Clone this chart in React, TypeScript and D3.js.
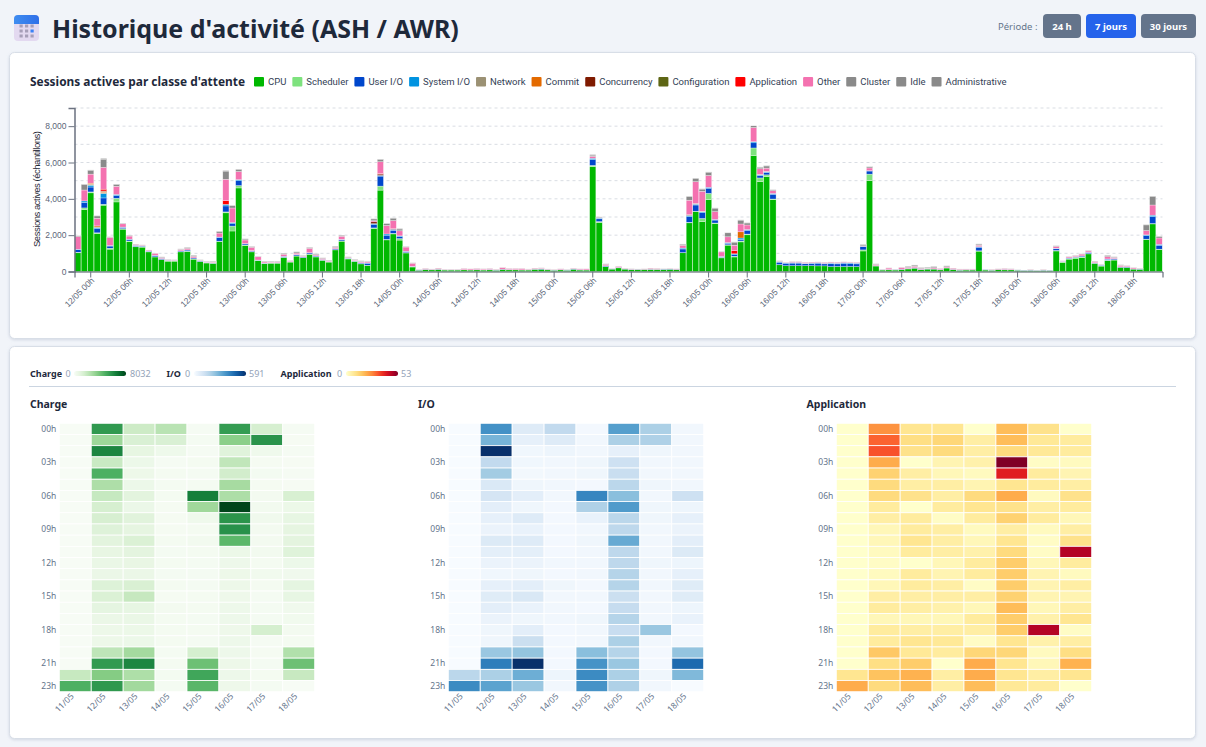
import { useEffect, useRef } from 'react';
import * as d3 from 'd3';

const days = ['11/05', '12/05', '13/05', '14/05', '15/05', '16/05', '17/05', '18/05'];
const rowHours = d3.range(24).map((h) => `${String(h).padStart(2, '0')}h`);
const rowTicks = ['00h', '03h', '06h', '09h', '12h', '15h', '18h', '21h', '23h'];

// hourly samples, 11/05 22h to 18/05 22h, one line per day
const cpu = [
  1030, 3400,
  4330, 2080, 3650, 1230, 3830, 2330, 1650, 1360, 1340, 1080, 800, 650, 570, 570, 1080, 1100, 680, 550, 470, 450, 1640, 3230, 2230, 4600,
  1430, 1080, 600, 440, 460, 460, 770, 520, 850, 760, 950, 800, 620, 520, 1190, 1670, 690, 560, 420, 340, 2370, 4480, 1740, 2070,
  1730, 1020, 250, 70, 100, 90, 110, 80, 80, 80, 90, 80, 90, 80, 90, 70, 110, 90, 90, 80, 80, 120, 120, 90,
  70, 90, 70, 120, 80, 80, 5770, 2700, 270, 130, 200, 130, 100, 100, 110, 110, 110, 110, 120, 100, 1030, 2680, 3290, 2740,
  3950, 2640, 750, 1450, 800, 1630, 2020, 6380, 4950, 5220, 3950, 370, 320, 320, 320, 320, 320, 310, 310, 270, 280, 270, 280, 270,
  1130, 5000, 300, 80, 90, 80, 110, 140, 180, 100, 130, 130, 90, 190, 100, 70, 80, 80, 1120, 80, 70, 100, 90, 90,
  70, 50, 60, 50, 60, 50, 1130, 500, 680, 730, 760, 970, 450, 300, 600, 630, 230, 220, 130, 120, 1750, 2620, 1200,
];
const scheduler = [
  30, 100,
  50, 50, 50, 50, 200, 30, 30, 20, 20, 10, 10, 10, 10, 10, 10, 20, 10, 5, 5, 5, 30, 50, 270, 130,
  30, 20, 10, 5, 5, 5, 10, 5, 10, 5, 10, 10, 5, 5, 5, 10, 10, 5, 5, 5, 30, 220, 30, 30,
  80, 20, 5, 0, 0, 0, 0, 0, 0, 0, 0, 0, 0, 0, 0, 0, 0, 0, 0, 0, 0, 0, 0, 0,
  0, 0, 0, 0, 0, 0, 70, 50, 5, 0, 0, 0, 0, 0, 0, 0, 0, 0, 0, 0, 10, 30, 30, 180,
  350, 30, 30, 20, 40, 50, 40, 420, 200, 100, 40, 10, 0, 0, 0, 0, 0, 0, 0, 0, 0, 0, 0, 0,
  60, 360, 0, 0, 0, 0, 0, 0, 0, 0, 0, 0, 0, 0, 0, 0, 0, 0, 20, 0, 0, 0, 0, 0,
  0, 0, 0, 0, 0, 0, 30, 30, 20, 50, 40, 10, 5, 5, 20, 10, 0, 0, 0, 0, 30, 20, 30,
];
const userIO = [
  140, 300,
  270, 230, 350, 120, 150, 70, 80, 45, 40, 30, 70, 50, 30, 20, 40, 60, 55, 30, 20, 20, 200, 330, 130, 270,
  60, 40, 15, 15, 10, 20, 50, 20, 60, 35, 60, 45, 30, 20, 50, 60, 30, 20, 45, 105, 190, 550, 230, 170,
  110, 60, 25, 18, 18, 18, 18, 12, 12, 12, 12, 12, 18, 12, 24, 18, 18, 18, 12, 12, 12, 12, 30, 18,
  12, 18, 18, 24, 24, 12, 320, 150, 35, 18, 24, 18, 18, 18, 12, 18, 12, 24, 18, 18, 200, 310, 340, 315,
  285, 160, 40, 80, 85, 75, 200, 285, 130, 130, 260, 130, 130, 140, 140, 105, 115, 145, 110, 155, 140, 180, 155, 150,
  175, 170, 24, 18, 18, 24, 18, 24, 24, 18, 18, 18, 24, 18, 18, 18, 18, 18, 195, 18, 12, 12, 24, 18,
  18, 18, 18, 18, 18, 18, 90, 20, 40, 25, 50, 60, 25, 40, 50, 50, 25, 30, 12, 18, 190, 380, 215,
];
const systemIO = [
  25, 85,
  100, 50, 241, 30, 60, 15, 20, 15, 10, 5, 10, 5, 5, 0, 10, 10, 5, 5, 5, 5, 25, 85, 65, 55,
  15, 10, 5, 5, 5, 5, 10, 5, 15, 5, 15, 10, 5, 5, 10, 30, 10, 5, 15, 25, 45, 41, 65, 55,
  40, 15, 5, 0, 0, 0, 0, 0, 0, 0, 0, 0, 0, 0, 0, 0, 0, 0, 0, 0, 0, 0, 0, 0,
  0, 0, 0, 0, 0, 0, 75, 40, 5, 0, 0, 0, 0, 0, 0, 0, 0, 0, 0, 0, 50, 55, 45, 50,
  50, 35, 10, 40, 50, 90, 50, 60, 35, 30, 45, 30, 30, 37, 37, 25, 27, 32, 26, 40, 37, 45, 40, 40,
  20, 20, 0, 0, 0, 0, 0, 0, 0, 0, 0, 0, 0, 0, 0, 0, 0, 0, 30, 0, 0, 0, 0, 0,
  0, 0, 0, 0, 0, 0, 30, 10, 10, 10, 10, 20, 5, 10, 20, 20, 5, 10, 0, 0, 45, 80, 50,
];
const other = [
  700, 600,
  500, 420, 1200, 450, 450, 180, 170, 50, 40, 50, 110, 50, 30, 20, 70, 80, 80, 20, 20, 40, 220, 1180, 800, 450,
  200, 180, 180, 60, 40, 40, 110, 40, 80, 40, 240, 60, 60, 30, 70, 170, 40, 40, 50, 60, 60, 650, 470, 450,
  280, 230, 170, 12, 42, 22, 52, 28, 28, 28, 58, 58, 52, 48, 46, 32, 82, 52, 58, 68, 38, 48, 40, 22,
  18, 42, 12, 36, 46, 58, 100, 20, 80, 12, 56, 32, 22, 12, 28, 52, 38, 6, 22, 32, 150, 800, 1200, 1100,
  650, 430, 250, 320, 290, 430, 250, 780, 310, 180, 150, 20, 30, 40, 40, 50, 50, 30, 50, 50, 50, 40, 40, 40,
  30, 150, 60, 12, 82, 6, 92, 60, 80, 50, 30, 60, 46, 50, 62, 42, 32, 32, 80, 0, 28, 38, 46, 32,
  2, 0, 22, 2, 22, 0, 100, 20, 60, 60, 100, 70, 60, 20, 130, 60, 80, 50, 60, 22, 240, 560, 350,
];
const cluster = [
  40, 300,
  200, 130, 450, 20, 100, 30, 30, 0, 0, 0, 0, 30, 10, 15, 20, 50, 60, 20, 20, 30, 80, 450, 130, 100,
  50, 40, 30, 30, 30, 30, 50, 20, 60, 30, 40, 40, 30, 30, 60, 50, 30, 30, 40, 30, 100, 130, 100, 130,
  100, 20, 20, 0, 0, 0, 0, 0, 0, 0, 0, 0, 0, 0, 0, 0, 0, 0, 0, 0, 0, 0, 0, 0,
  0, 0, 0, 0, 0, 0, 70, 30, 30, 0, 0, 0, 0, 0, 0, 0, 0, 0, 0, 0, 60, 200, 180, 120,
  180, 190, 20, 220, 170, 210, 110, 97, 80, 120, 40, 20, 0, 0, 0, 0, 0, 0, 0, 0, 0, 0, 0, 0,
  60, 60, 30, 0, 0, 0, 0, 56, 66, 42, 52, 62, 0, 52, 0, 0, 0, 0, 60, 0, 0, 0, 0, 0,
  0, 0, 0, 0, 0, 0, 30, 10, 10, 10, 10, 20, 20, 10, 70, 30, 20, 10, 10, 10, 310, 470, 80,
];
const administrative = [
  15, 20,
  30, 15, 40, 10, 20, 15, 15, 15, 15, 10, 10, 10, 15, 15, 15, 10, 10, 15, 15, 15, 20, 30, 15, 25,
  15, 10, 10, 15, 15, 15, 15, 10, 15, 10, 15, 10, 10, 15, 10, 15, 10, 10, 15, 15, 15, 15, 15, 15,
  25, 10, 10, 10, 10, 10, 10, 10, 10, 10, 10, 10, 10, 10, 10, 10, 10, 10, 10, 10, 10, 10, 10, 10,
  10, 10, 10, 10, 10, 10, 30, 15, 10, 10, 10, 10, 10, 10, 10, 10, 10, 10, 10, 10, 15, 15, 15, 15,
  15, 15, 10, 15, 15, 15, 15, 10, 20, 20, 15, 10, 10, 10, 10, 10, 10, 10, 10, 10, 10, 10, 10, 10,
  15, 20, 10, 10, 10, 10, 10, 10, 10, 10, 10, 10, 10, 10, 10, 10, 10, 10, 15, 10, 10, 10, 10, 10,
  10, 10, 10, 10, 10, 10, 15, 10, 10, 10, 10, 10, 10, 10, 10, 10, 10, 10, 10, 10, 20, 20, 15,
];

// classes that only show up on a few hours
const network: Record<string, number> = {
  '12/05 00h': 50, '12/05 01h': 40, '12/05 02h': 60, '15/05 21h': 50, '15/05 22h': 40, '15/05 23h': 30, '16/05 08h': 30, '16/05 09h': 30,
};
const commit: Record<string, number> = { '12/05 00h': 60, '12/05 01h': 60, '12/05 02h': 60, '16/05 05h': 340 };
const concurrency: Record<string, number> = { '12/05 02h': 20, '13/05 20h': 100, '13/05 21h': 70 };
const configuration: Record<string, number> = {};
const application: Record<string, number> = { '12/05 02h': 100, '12/05 21h': 200, '13/05 21h': 30, '13/05 23h': 30, '16/05 04h': 180 };
const idle: Record<string, number> = {};

// Application heatmap, one list per day
const appDay11 = [0, 0, 0, 0, 0, 0, 0, 0, 0, 0, 0, 0, 0, 0, 0, 0, 0, 0, 0, 0, 0, 0, 9, 21];
const appDay12 = [25, 31, 33, 21, 14, 12, 12, 7, 6, 3, 3, 2, 1, 2, 3, 6, 7, 3, 7, 7, 16, 11, 17, 12];
const appDay13 = [9, 11, 10, 0, 6, 6, 10, 0, 7, 7, 9, 7, 0, 7, 7, 6, 6, 3, 6, 9, 8, 15, 20, 18];
const appDay14 = [9, 13, 12, 4, 3, 6, 6, 7, 1, 6, 6, 6, 3, 4, 6, 6, 5, 3, 6, 8, 7, 0, 6, 6];
const appDay15 = [0, 6, 6, 5, 2, 4, 12, 9, 7, 2, 3, 5, 7, 7, 1, 6, 3, 7, 6, 1, 13, 21, 21, 18];
const appDay16 = [18, 18, 12, 53, 40, 9, 21, 10, 14, 6, 9, 12, 15, 15, 15, 14, 18, 15, 15, 9, 13, 9, 9, 8];
const appDay17 = [10, 8, 8, 1, 7, 7, 2, 6, 7, 2, 1, 1, 3, 4, 4, 4, 3, 5, 47, 5, 2, 3, 6, 7];
const appDay18 = [0, 7, 7, 2, 4, 6, 10, 7, 3, 6, 10, 47, 7, 2, 6, 4, 6, 9, 1, 6, 11, 20, 9, 0];
const appByDay = [appDay11, appDay12, appDay13, appDay14, appDay15, appDay16, appDay17, appDay18];

const hourKeys = days.flatMap((d) => rowHours.map((h) => `${d} ${h}`)).slice(22, 22 + cpu.length);
const pick = (m: Record<string, number>) => hourKeys.map((k) => m[k] || 0);

const seriesNames = ['CPU', 'Scheduler', 'User I/O', 'System I/O', 'Network', 'Commit', 'Concurrency', 'Configuration', 'Application', 'Other', 'Cluster', 'Idle', 'Administrative'];
const seriesColors = ['#00b800', '#7ee27e', '#0047cc', '#0093e0', '#9b9174', '#e36a00', '#7f1a00', '#5e6614', '#ff0000', '#f472b0', '#8a8a8a', '#8a8a8a', '#8a8a8a'];
const seriesValues = [
  cpu, scheduler, userIO, systemIO, pick(network), pick(commit), pick(concurrency), pick(configuration), pick(application), other, cluster, pick(idle), administrative,
];

const SANS = '"Noto Sans", "Open Sans", sans-serif';
const ROBOTO = 'Roboto, "Noto Sans", sans-serif';
const ARIAL = '"Liberation Sans", Arial, sans-serif';

export default function App() {
  const svgRef = useRef<SVGSVGElement>(null);

  useEffect(() => {
    if (!svgRef.current) return;
    const svg = d3.select(svgRef.current);
    svg.selectAll('*').remove();

    const defs = svg.append('defs');
    const shadow = defs.append('filter').attr('id', 'card-shadow').attr('x', '-2%').attr('y', '-4%').attr('width', '104%').attr('height', '108%');
    shadow.append('feDropShadow').attr('dx', 0).attr('dy', 1).attr('stdDeviation', 1.5).attr('flood-color', '#94a3b8').attr('flood-opacity', 0.35);

    svg.append('rect').attr('width', 1206).attr('height', 747).attr('fill', '#f1f4f9');

    // Page header
    const iconBand = defs.append('linearGradient').attr('id', 'icon-band').attr('x1', 0).attr('x2', 1).attr('y1', 0).attr('y2', 0);
    iconBand.append('stop').attr('offset', '0%').attr('stop-color', '#3f8df0');
    iconBand.append('stop').attr('offset', '100%').attr('stop-color', '#2f6fe8');
    svg.append('rect').attr('x', 14).attr('y', 15).attr('width', 25).attr('height', 26).attr('rx', 4).attr('fill', '#e3d9f0');
    svg.append('path').attr('d', 'M14 24V19a4 4 0 0 1 4-4h17a4 4 0 0 1 4 4v5z').attr('fill', 'url(#icon-band)');
    d3.range(9).forEach((i) => {
      svg.append('rect')
        .attr('x', 19.5 + (i % 3) * 5.5)
        .attr('y', 24.5 + Math.floor(i / 3) * 5)
        .attr('width', 3.2)
        .attr('height', 3)
        .attr('fill', i === 5 ? '#3b82f6' : '#a79fb8');
    });
    svg.append('text')
      .attr('x', 52).attr('y', 38)
      .style('font-family', SANS).style('font-size', '25px').style('font-weight', '700')
      .attr('fill', '#1e293b')
      .text("Historique d'activité (ASH / AWR)");

    svg.append('text')
      .attr('x', 998).attr('y', 30)
      .style('font-family', SANS).style('font-size', '9.5px')
      .attr('fill', '#64748b')
      .text('Période :');
    [
      { label: '24 h', x: 1043, w: 38, fill: '#64748b' },
      { label: '7 jours', x: 1086, w: 50, fill: '#2563eb' },
      { label: '30 jours', x: 1141, w: 55, fill: '#64748b' },
    ].forEach((b) => {
      svg.append('rect').attr('x', b.x).attr('y', 14).attr('width', b.w).attr('height', 24).attr('rx', 4).attr('fill', b.fill);
      svg.append('text')
        .attr('x', b.x + b.w / 2).attr('y', 30).attr('text-anchor', 'middle')
        .style('font-family', SANS).style('font-size', '9.5px').style('font-weight', '700')
        .attr('fill', '#fff')
        .text(b.label);
    });

    // Cards
    [[52, 286], [346, 392]].forEach(([top, h]) => {
      svg.append('rect')
        .attr('x', 9.5).attr('y', top + 0.5).attr('width', 1186).attr('height', h).attr('rx', 5)
        .attr('fill', '#fff').attr('stroke', '#d8dee7').attr('filter', 'url(#card-shadow)');
    });

    // Stacked chart header + legend
    svg.append('text')
      .attr('x', 30).attr('y', 86)
      .style('font-family', SANS).style('font-size', '11.9px').style('font-weight', '700')
      .attr('fill', '#1e293b')
      .text("Sessions actives par classe d'attente");

    let legendX = 254;
    seriesNames.forEach((name, i) => {
      svg.append('rect').attr('x', legendX).attr('y', 77).attr('width', 10).attr('height', 9.5).attr('rx', 1).attr('fill', seriesColors[i]);
      const t = svg.append('text')
        .attr('x', legendX + 14).attr('y', 85.2)
        .style('font-family', ROBOTO).style('font-size', '9.5px')
        .attr('fill', '#334155')
        .text(name);
      legendX += 14 + (t.node() as SVGTextElement).getComputedTextLength() + 6;
    });

    // Stacked bars
    const barG = svg.append('g');
    const x = d3.scaleBand<string>().domain(hourKeys).range([74.5, 1162.5]).padding(0.04);
    const y = d3.scaleLinear().domain([0, 9000]).range([271.5, 108]);

    const yGrid = d3.range(1000, 10000, 1000);
    barG.selectAll('line.grid')
      .data(yGrid)
      .join('line')
      .attr('class', 'grid')
      .attr('x1', 74.5).attr('x2', 1162.5)
      .attr('y1', (d) => y(d)).attr('y2', (d) => y(d))
      .attr('stroke', '#d9dde3')
      .attr('stroke-dasharray', '3,3');

    const rows = hourKeys.map((key, i) => {
      const row: Record<string, any> = { key };
      seriesNames.forEach((n, s) => (row[n] = seriesValues[s][i]));
      return row;
    });
    const stacked = d3.stack<any>().keys(seriesNames)(rows);
    barG.selectAll('g.layer')
      .data(stacked)
      .join('g')
      .attr('class', 'layer')
      .attr('fill', (_, i) => seriesColors[i])
      .selectAll('rect')
      .data((d) => d.filter((v) => v[1] > v[0]))
      .join('rect')
      .attr('x', (d) => x(d.data.key)!)
      .attr('y', (d) => y(d[1]))
      .attr('width', x.bandwidth())
      .attr('height', (d) => y(d[0]) - y(d[1]))
      .attr('stroke', '#fff')
      .attr('stroke-width', 0.5)
      .attr('stroke-opacity', 0.6);

    const xAxis = d3.axisBottom(x).tickValues(hourKeys.filter((k) => /(00|06|12|18)h$/.test(k)));
    const xG = barG.append('g').attr('transform', 'translate(0,271.5)').call(xAxis);
    xG.select('.domain').attr('stroke', '#4b5563');
    xG.selectAll('.tick line').attr('stroke', '#6b7280');
    xG.selectAll('text')
      .attr('transform', 'rotate(-45)')
      .attr('text-anchor', 'end')
      .attr('y', 8)
      .attr('dx', '-0.45em').attr('dy', '0.2em')
      .style('font-family', ARIAL).style('font-size', '8.5px')
      .attr('fill', '#5b6678');

    const yG = barG.append('g').attr('transform', 'translate(74.5,0)')
      .call(d3.axisLeft(y).tickValues([0, 2000, 4000, 6000, 8000]).tickFormat(d3.format(',')).tickPadding(2));
    yG.select('.domain').attr('stroke', '#6b7280').attr('stroke-width', 1.5);
    yG.selectAll('.tick line').attr('stroke', '#6b7280');
    yG.selectAll('text').style('font-family', ARIAL).style('font-size', '8.5px').attr('fill', '#5b6678');

    barG.append('text')
      .attr('transform', 'translate(40,189) rotate(-90)')
      .attr('text-anchor', 'middle')
      .attr('textLength', 116)
      .style('font-family', ARIAL).style('font-size', '9.5px')
      .attr('fill', '#1f2937')
      .text('Sessions actives (échantillons)');

    // Heatmaps
    const totals = rows.map((_, i) => d3.sum(seriesValues, (s) => s[i]));
    const ioTotals = rows.map((_, i) => userIO[i] + systemIO[i]);
    const fromHourly = (values: number[]) => {
      const m = new Map(hourKeys.map((k, i) => [k, values[i]]));
      return days.map((d) => rowHours.map((h) => m.get(`${d} ${h}`) || 0));
    };
    const maps = [
      { title: 'Charge', grid: fromHourly(totals), color: d3.interpolateGreens, left: 59.3, titleX: 30, legendX: 30, zero: 65.5, bar: 74, top: 130 },
      { title: 'I/O', grid: fromHourly(ioTotals), color: d3.interpolateBlues, left: 448.3, titleX: 418, legendX: 166.5, zero: 185, bar: 194, top: 249 },
      { title: 'Application', grid: appByDay, color: d3.interpolateYlOrRd, left: 836.3, titleX: 806.5, legendX: 280.5, zero: 337, bar: 346, top: 401 },
    ];

    maps.forEach((m, idx) => {
      const maxV = d3.max(m.grid.flat()) as number;
      const c = d3.scaleSequential(m.color).domain([0, maxV]);

      // legend strip
      svg.append('text').attr('x', m.legendX).attr('y', 377)
        .style('font-family', SANS).style('font-size', '9px').style('font-weight', '700').attr('fill', '#1e293b')
        .text(m.title);
      svg.append('text').attr('x', m.zero).attr('y', 377)
        .style('font-family', SANS).style('font-size', '9px').attr('fill', '#94a3b8')
        .text('0');
      const grad = defs.append('linearGradient').attr('id', `legend-${idx}`);
      d3.range(11).forEach((i) => {
        grad.append('stop').attr('offset', `${i * 10}%`).attr('stop-color', m.color(i / 10));
      });
      svg.append('rect').attr('x', m.bar).attr('y', 371).attr('width', 52).attr('height', 5).attr('rx', 2.5).attr('fill', `url(#legend-${idx})`);
      svg.append('text').attr('x', m.top).attr('y', 377)
        .style('font-family', SANS).style('font-size', '9px').attr('fill', '#94a3b8')
        .text(String(maxV));

      // panel
      svg.append('text').attr('x', m.titleX).attr('y', 408)
        .style('font-family', SANS).style('font-size', '10.5px').style('font-weight', '700').attr('fill', '#1e293b')
        .text(m.title);

      const hx = d3.scaleBand<string>().domain(days).range([m.left, m.left + 255.4]);
      const hy = d3.scaleBand<string>().domain(rowHours).range([423.3, 691.7]);
      const g = svg.append('g');
      days.forEach((d, di) => {
        g.append('g')
          .selectAll('rect')
          .data(m.grid[di])
          .join('rect')
          .attr('x', hx(d)!)
          .attr('y', (_, r) => hy(rowHours[r])!)
          .attr('width', hx.bandwidth())
          .attr('height', hy.bandwidth())
          .attr('fill', (v) => c(v))
          .attr('stroke', '#fff')
          .attr('stroke-width', 0.8);
      });

      const ax = g.append('g').attr('transform', 'translate(0,691.7)').call(d3.axisBottom(hx).tickSize(0));
      ax.select('.domain').remove();
      ax.selectAll('text')
        .attr('transform', 'rotate(-45)')
        .attr('text-anchor', 'end')
        .attr('dx', '-0.5em').attr('dy', '0')
        .style('font-family', SANS).style('font-size', '8.5px')
        .attr('fill', '#64748b');

      const ay = g.append('g').attr('transform', `translate(${m.left},0)`).call(d3.axisLeft(hy).tickSize(0).tickValues(rowTicks));
      ay.select('.domain').remove();
      ay.selectAll('text')
        .style('font-family', SANS).style('font-size', '8.5px')
        .attr('fill', '#64748b');
    });

    svg.append('line').attr('x1', 29).attr('x2', 1176).attr('y1', 386.5).attr('y2', 386.5).attr('stroke', '#cbd5e1');
  }, []);

  return <svg ref={svgRef} width={1206} height={747} style={{ position: 'fixed', left: 0, top: 0 }} />;
}
